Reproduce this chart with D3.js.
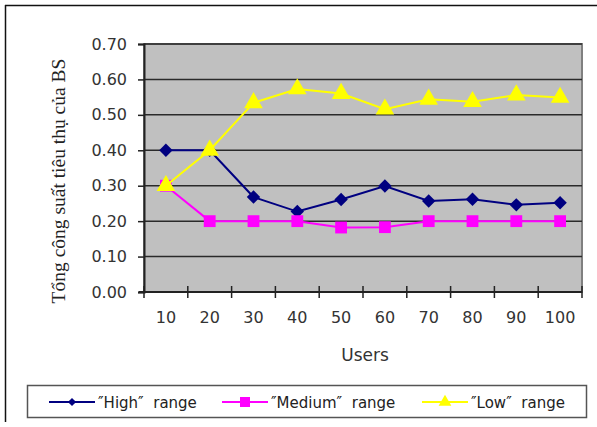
<!DOCTYPE html>
<meta charset="UTF-8">
<script src="https://d3js.org/d3.v7.min.js"></script>
<style>
  body { margin: 0; background: #fff; }
</style>
<div id="chart"></div>
<script>

  // Data
  const users = ["10", "20", "30", "40", "50", "60", "70", "80", "90", "100"];
  const highRange = [0.40, 0.40, 0.268, 0.227, 0.261, 0.299, 0.257, 0.262, 0.246, 0.252];
  const mediumRange = [0.30, 0.20, 0.20, 0.20, 0.182, 0.183, 0.20, 0.20, 0.20, 0.20];
  const lowRange = [0.30, 0.40, 0.534, 0.573, 0.560, 0.516, 0.544, 0.537, 0.556, 0.549];
  const yTicks = [0, 0.1, 0.2, 0.3, 0.4, 0.5, 0.6, 0.7];

  const W = 597, H = 427;
  const plot = {left: 144, right: 582, top: 44, bottom: 292};

  const svg = d3.select("#chart")
    .append("svg")
    .attr("width", W)
    .attr("height", H);

  // outer frame (only top and left visible)
  svg.append("line").attr("x1", 5).attr("x2", W).attr("y1", 5.5).attr("y2", 5.5)
    .attr("stroke", "#111").attr("stroke-width", 1.5);
  svg.append("line").attr("x1", 5.5).attr("x2", 5.5).attr("y1", 5).attr("y2", 422)
    .attr("stroke", "#111").attr("stroke-width", 1.5);

  const x = d3.scaleBand()
    .domain(users)
    .range([plot.left, plot.right]);

  const y = d3.scaleLinear()
    .domain([0, 0.7])
    .range([plot.bottom, plot.top]);

  // plot background
  svg.append("rect")
    .attr("x", plot.left)
    .attr("y", plot.top)
    .attr("width", plot.right - plot.left)
    .attr("height", plot.bottom - plot.top)
    .attr("fill", "#c0c0c0")
    .attr("stroke", "#808080")
    .attr("stroke-width", 2);

  // gridlines
  svg.append("g")
    .selectAll("line")
    .data(yTicks.filter(d => d > 0))
    .join("line")
    .attr("x1", plot.left)
    .attr("x2", plot.right)
    .attr("y1", d => y(d))
    .attr("y2", d => y(d))
    .attr("stroke", "#2a2a2a")
    .attr("stroke-width", 1.5);

  // Y axis
  const yAxis = svg.append("g")
    .attr("transform", `translate(${plot.left},0)`)
    .call(d3.axisLeft(y).tickValues(yTicks).tickFormat(d3.format(".2f")).tickSize(6).tickPadding(11));
  yAxis.select(".domain").attr("stroke", "#222").attr("stroke-width", 2);
  yAxis.selectAll(".tick line").attr("stroke", "#222").attr("stroke-width", 1.5);
  yAxis.selectAll("text")
    .style("font-family", "'DejaVu Sans', sans-serif")
    .style("font-size", "16px")
    .attr("fill", "#333");

  // X axis (ticks between categories, crossing)
  const xBound = users.map(d => x(d)).concat([plot.right]);
  const xAxis = svg.append("g");
  xAxis.append("line")
    .attr("x1", plot.left - 5).attr("x2", plot.right)
    .attr("y1", plot.bottom).attr("y2", plot.bottom)
    .attr("stroke", "#222").attr("stroke-width", 2);
  xAxis.selectAll(".xt")
    .data(xBound)
    .join("line")
    .attr("class", "xt")
    .attr("x1", d => d).attr("x2", d => d)
    .attr("y1", plot.bottom - 6).attr("y2", plot.bottom + 6)
    .attr("stroke", "#222").attr("stroke-width", 1.5);
  xAxis.selectAll("text")
    .data(users)
    .join("text")
    .attr("x", d => x(d) + x.bandwidth() / 2)
    .attr("y", 323)
    .attr("text-anchor", "middle")
    .style("font-family", "'DejaVu Sans', sans-serif")
    .style("font-size", "16px")
    .attr("fill", "#333")
    .text(d => d);

  // axis titles
  svg.append("text")
    .attr("x", 365)
    .attr("y", 361)
    .attr("text-anchor", "middle")
    .style("font-family", "'DejaVu Sans', sans-serif")
    .style("font-size", "17px")
    .attr("fill", "#333")
    .text("Users");

  svg.append("text")
    .attr("transform", "rotate(-90)")
    .attr("x", -181)
    .attr("y", 65)
    .attr("text-anchor", "middle")
    .style("font-family", "'Liberation Serif', serif")
    .style("font-size", "19.5px")
    .attr("fill", "#222")
    .text("Tổng công suất tiêu thụ của BS");

  // series
  const diamond = {
    draw(ctx, size) {
      const r = Math.sqrt(size) * 0.75;
      ctx.moveTo(0, -r);
      ctx.lineTo(r, 0);
      ctx.lineTo(0, r);
      ctx.lineTo(-r, 0);
      ctx.closePath();
    }
  };

  const series = [
    {name: "″High″  range", values: highRange, color: "#000080", shape: diamond, size: 80, lsize: 30},
    {name: "″Medium″  range", values: mediumRange, color: "#ff00ff", shape: d3.symbolSquare, size: 140, lsize: 100},
    {name: "″Low″  range", values: lowRange, color: "#ffff00", shape: d3.symbolTriangle, size: 150, lsize: 70}
  ];

  const line = d3.line()
    .x((d, i) => x(users[i]) + x.bandwidth() / 2)
    .y(d => y(d));

  series.forEach(s => {
    svg.append("path")
      .datum(s.values)
      .attr("d", line)
      .attr("fill", "none")
      .attr("stroke", s.color)
      .attr("stroke-width", 2);

    svg.append("g")
      .selectAll("path")
      .data(s.values)
      .join("path")
      .attr("transform", (d, i) => `translate(${x(users[i]) + x.bandwidth() / 2},${y(d)})`)
      .attr("d", d3.symbol().type(s.shape).size(s.size))
      .attr("fill", s.color);
  });

  // Legend
  const legend = svg.append("g");
  legend.append("rect")
    .attr("x", 27.5).attr("y", 385.5)
    .attr("width", 559).attr("height", 32)
    .attr("fill", "#fff")
    .attr("stroke", "#555")
    .attr("stroke-width", 1.5);

  const legendX = [49, 222, 422];
  series.forEach((s, i) => {
    const g = legend.append("g").attr("transform", `translate(${legendX[i]},402)`);
    g.append("line").attr("x1", 0).attr("x2", 46).attr("y1", 0).attr("y2", 0)
      .attr("stroke", s.color).attr("stroke-width", 2);
    g.append("path").attr("transform", "translate(23,0)")
      .attr("d", d3.symbol().type(s.shape).size(s.lsize))
      .attr("fill", s.color);
    g.append("text")
      .attr("x", 49).attr("y", 6)
      .style("font-family", "'DejaVu Sans', sans-serif")
      .style("font-size", "15px")
      .style("white-space", "pre")
      .attr("fill", "#222")
      .text(s.name);
  });

</script>
